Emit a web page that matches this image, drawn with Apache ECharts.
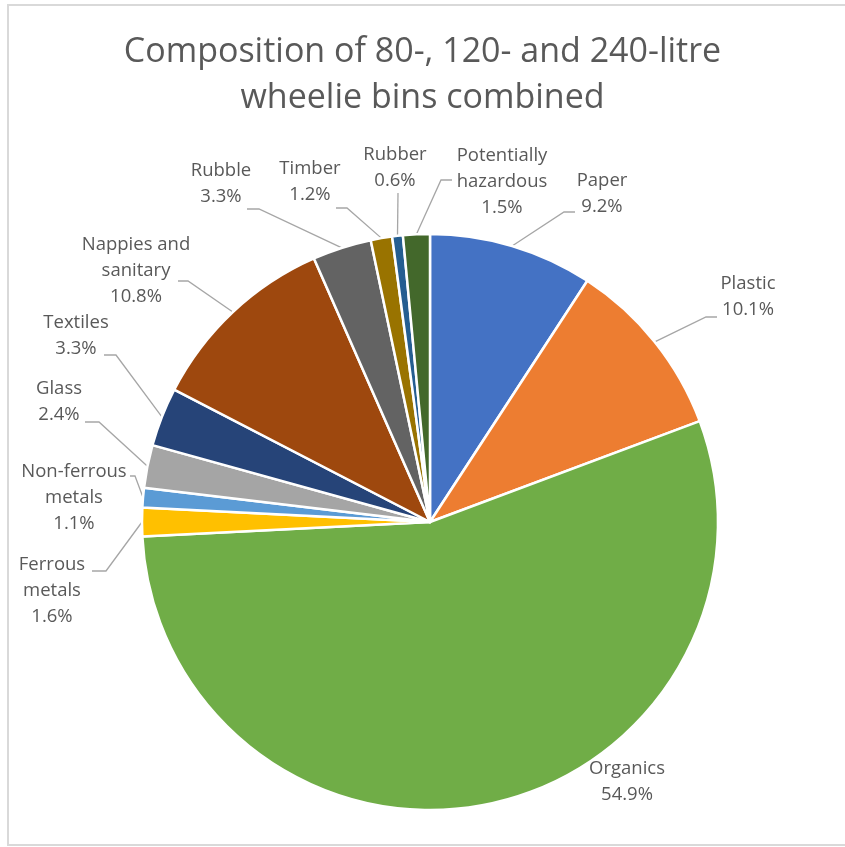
<!DOCTYPE html>
<html>
<head>
<meta charset="utf-8">
<script src="https://cdn.jsdelivr.net/npm/echarts@6/dist/echarts.min.js"></script>
<style>
html,body{margin:0;padding:0;background:#fff;}
#chart{width:845px;height:847px;}
</style>
</head>
<body>
<div id="chart"></div>
<script>
// ---- data ----
const categories = ['Paper','Plastic','Organics','Ferrous\nmetals','Non-ferrous\nmetals','Glass','Textiles','Nappies and\nsanitary','Rubble','Timber','Rubber','Potentially\nhazardous'];
const values = [9.2, 10.1, 54.9, 1.6, 1.1, 2.4, 3.3, 10.8, 3.3, 1.2, 0.6, 1.5];
const colors = ['#4472C4','#ED7D31','#70AD47','#FFC000','#5B9BD5','#A5A5A5','#264478','#9E480E','#636363','#997300','#255E91','#43682B'];
const titleText = 'Composition of 80-, 120- and 240-litre\nwheelie bins combined';

// label placement (block centre) and leader-line bend/end points
const labelPos = [
  [602,194],[748,297],[627,782],[52,591],[74,498],[59,402],
  [76,336],[136,271],[221,184],[310,182],[395,168],[502,182]
];
const lineEnds = [
  [[564,212],[575,212]],
  [[706,317],[717,317]],
  null,
  [[106,571],[92,571]],
  [[135,476],[130,476]],
  [[99,422],[85,422]],
  [[116,355],[104,355]],
  [[188,281],[178,281]],
  [[259,209],[247,209]],
  [[347,208],[336,208]],
  [[398,193]],
  [[441,180],[452,180]]
];

const chart = echarts.init(document.getElementById('chart'));
const data = categories.map((c,i)=>({
  name:c, value:values[i],
  itemStyle:{color:colors[i]},
  labelLine:{show: lineEnds[i] !== null}
}));

chart.setOption({
  backgroundColor:'#fff',
  animation:false,
  title:{
    text:titleText,
    left:'center', top:24,
    textStyle:{fontFamily:'Open Sans', fontSize:34, fontWeight:'normal', color:'#595959', lineHeight:46}
  },
  graphic:[{
    type:'rect', silent:true,
    shape:{x:8,y:5,width:850,height:840},
    style:{fill:'none', stroke:'#D9D9D9', lineWidth:2}
  }],
  series:[{
    type:'pie',
    center:[430,522],
    radius:288,
    startAngle:90,
    clockwise:true,
    avoidLabelOverlap:false,
    data:data,
    itemStyle:{borderColor:'#fff', borderWidth:2.5},
    label:{
      show:true,
      position:'outside',
      formatter:p=>p.name+'\n'+values[p.dataIndex].toFixed(1)+'%',
      fontFamily:'Open Sans',
      fontSize:18.5,
      lineHeight:26,
      color:'#595959',
      align:'center'
    },
    labelLine:{show:true, lineStyle:{color:'#A6A6A6', width:1.3}},
    labelLayout:function(params){
      const i = params.dataIndex;
      const pos = labelPos[i];
      const res = {x:pos[0], y:pos[1], align:'center', verticalAlign:'middle'};
      const ends = lineEnds[i];
      if (ends && params.labelLinePoints) {
        res.labelLinePoints = [params.labelLinePoints[0]].concat(ends);
      }
      return res;
    }
  }]
});
</script>
</body>
</html>
